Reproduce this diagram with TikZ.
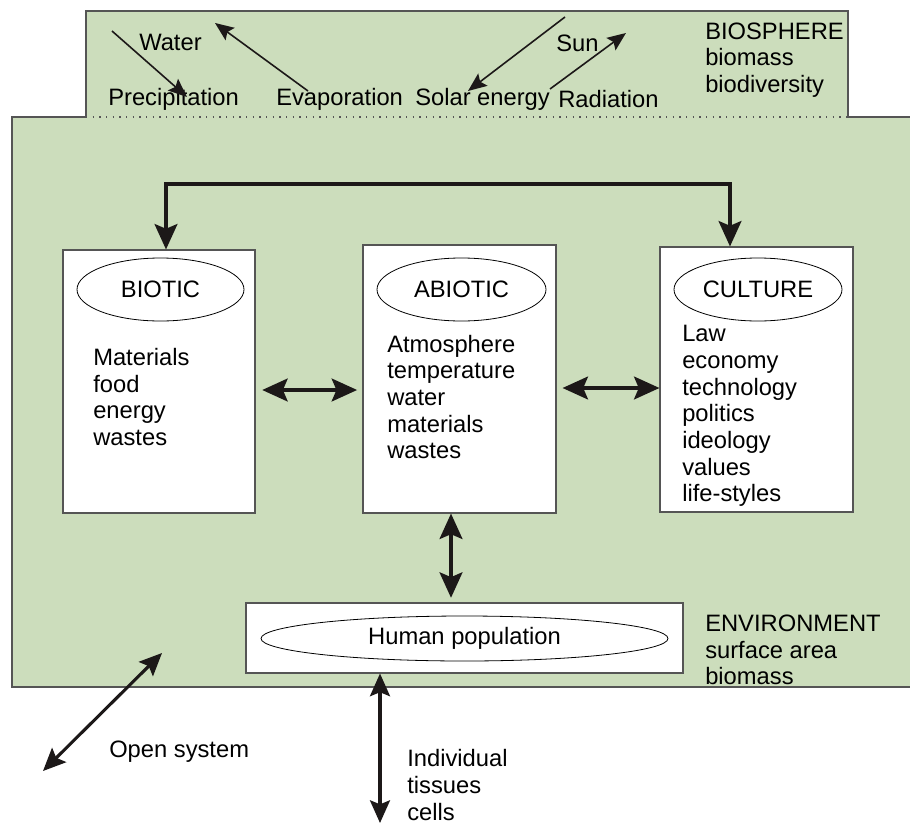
\documentclass[tikz,border=0pt]{standalone}
\usepackage{fontspec}
\setmainfont{Liberation Sans}
\usetikzlibrary{arrows.meta,shapes.geometric}
\definecolor{envgreen}{RGB}{204,221,188}
\definecolor{edgegray}{RGB}{85,85,85}
\definecolor{ink}{RGB}{28,24,24}
\tikzset{
  bighead/.tip={Stealth[length=19pt,width=17pt,inset=3.5pt]},
  midhead/.tip={Stealth[length=17pt,width=15pt,inset=3pt]},
  smallhead/.tip={Stealth[length=14pt,width=11.5pt,inset=2.5pt]},
}
\begin{document}
\begin{tikzpicture}[x=0.75pt,y=-0.75pt,
  every node/.style={font=\fontsize{17.8}{20}\selectfont, inner sep=0pt, text=black},
  txt/.style={anchor=west, align=left},
  panel/.style={draw=edgegray, line width=0.8pt, fill=white, rectangle},
  oval/.style={draw=black, line width=0.6pt, ellipse, fill=white},
  heavy/.style={draw=ink, line width=3pt, bighead-bighead},
  medium/.style={draw=ink, line width=2.3pt, midhead-midhead},
  thinarrow/.style={draw=ink, line width=1.2pt, -smallhead},
]
\useasboundingbox (0,0) rectangle (910,828);

% environment / biosphere background
\fill[envgreen] (12,117) -- (86,117) -- (86,11) -- (848,11) -- (848,117) -- (911,117)
  -- (911,687) -- (12,687) -- cycle;
\draw[edgegray, line width=0.9pt] (911,117) -- (848,117) -- (848,11) -- (86,11) -- (86,117)
  -- (12,117) -- (12,687) -- (911,687);
\draw[edgegray, line width=0.9pt, dash pattern=on 0.9pt off 4.1pt] (86,117) -- (848,117);

% biosphere labels
\node[txt] (water) at (139,42) {Water};
\node[txt] (precip) at (108,99) {Precipitation};
\node[txt] (evap) at (276,99) {Evaporation};
\node[txt] (solar) at (415,99) {Solar energy};
\node[txt] (rad) at (558,99) {Radiation};
\node[txt] (sun) at (556,43) {Sun};
\node[txt] (bios) at (705,60) {BIOSPHERE\\biomass\\biodiversity};

% biosphere arrows
\coordinate (pA) at (112,31);  \coordinate (pB) at (187,97);
\coordinate (eA) at (308,91);  \coordinate (eB) at (215,23);
\coordinate (sA) at (565,17);  \coordinate (sB) at (468,91);
\coordinate (rA) at (550,89);  \coordinate (rB) at (626,33);
\draw[thinarrow] (pA) -- (pB);
\draw[thinarrow] (eA) -- (eB);
\draw[thinarrow] (sA) -- (sB);
\draw[thinarrow] (rA) -- (rB);

% three panels
\node[panel, minimum width=144pt, minimum height=197.25pt] (biotic) at (159,381.5) {};
\node[oval, minimum width=125.25pt, minimum height=47.25pt] (bioticE) at (160.5,289.5) {BIOTIC};
\node[txt] (bioticT) at (93,397) {Materials\\food\\energy\\wastes};

\node[panel, minimum width=144.75pt, minimum height=201pt] (abiotic) at (459.5,379) {};
\node[oval, minimum width=126.75pt, minimum height=47.25pt] (abioticE) at (461.5,289.5) {ABIOTIC};
\node[txt] (abioticT) at (387,397) {Atmosphere\\temperature\\water\\materials\\wastes};

\node[panel, minimum width=144.75pt, minimum height=198.75pt] (culture) at (756.5,379.5) {};
\node[oval, minimum width=126pt, minimum height=47.25pt] (cultureE) at (758,289.5) {CULTURE};
\node[txt] (cultureT) at (682,416) {Law\\economy\\technology\\politics\\ideology\\values\\life-styles};

% human population
\node[panel, minimum width=327.75pt, minimum height=52.5pt] (human) at (464.5,638) {};
\node[oval, minimum width=305.25pt, minimum height=33.75pt] (humanE) at (464.5,638.5) {Human population};

% environment label and outside labels
\node[txt] (env) at (705,650) {ENVIRONMENT\\surface area\\biomass};
\node[txt] (open) at (109,752) {Open system};
\node[txt] (indiv) at (407,785) {Individual\\tissues\\cells};

% connectors
\coordinate (t1) at (166,184); \coordinate (t2) at (730,184);
\draw[heavy] (biotic.north -| t1) -- (t1) -- (t2) -- (culture.north -| t2);

\coordinate (h1) at (0,390); \coordinate (h2) at (0,388);
\draw[heavy, shorten <=5pt, shorten >=4pt] (biotic.east |- h1) -- (abiotic.west |- h1);
\draw[heavy, shorten <=4.5pt] (abiotic.east |- h2) -- (culture.west |- h2);

\coordinate (v1) at (451,0);
\draw[heavy, shorten >=3.5pt] (abiotic.south -| v1) -- (human.north -| v1);

\coordinate (v2) at (380,823);
\draw[medium] (human.south -| v2) -- (v2);

\coordinate (o1) at (43,771); \coordinate (o2) at (162,653);
\draw[medium] (o1) -- (o2);
\end{tikzpicture}
\end{document}
